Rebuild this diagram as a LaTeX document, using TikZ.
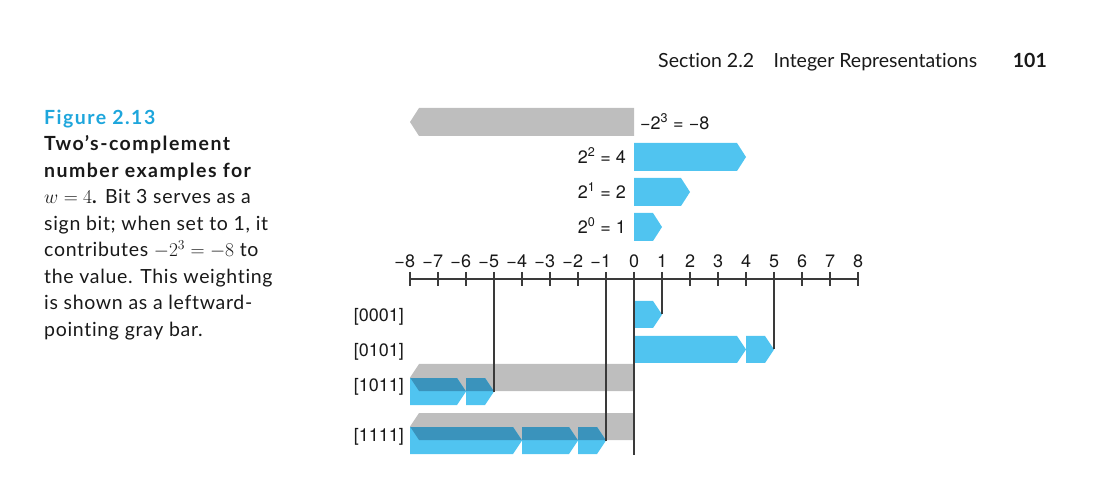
\documentclass[tikz,border=0pt]{standalone}
\usepackage{fontspec}
\usepackage{fix-cm}
\setmainfont{Lato}[Ligatures=NoCommon]
\newfontfamily\capfont{Lato}[LetterSpace=3.5,Ligatures=NoCommon]
\newfontfamily\capbffont{Lato}[LetterSpace=7.5,Ligatures=NoCommon]
\newfontfamily\figfont{TeX Gyre Heros}
\definecolor{barblue}{HTML}{50C4F0}
\definecolor{bardark}{HTML}{3A93BC}
\definecolor{bargray}{HTML}{BEBEBE}
\definecolor{capblue}{HTML}{1EA6DC}
\definecolor{linegray}{HTML}{3A3A3A}
% right-pointing bar: [colour] x1, x2(tip), ytop, ybottom
\newcommand{\rbar}[5][barblue]{\fill[#1] (#2,#4) -- ({#3-9},#4) -- (#3,{(#4+#5)/2}) -- ({#3-9},#5) -- (#2,#5) -- cycle;}
% left-pointing bar: x1(tip), x2, ytop, ybottom
\newcommand{\lbar}[5][bargray]{\fill[#1] (#3,#4) -- ({#2+9},#4) -- (#2,{(#4+#5)/2}) -- ({#2+9},#5) -- (#3,#5) -- cycle;}
\newcommand{\lbarclip}[4]{\clip (#2,#3) -- ({#1+9},#3) -- (#1,{(#3+#4)/2}) -- ({#1+9},#4) -- (#2,#4) -- cycle;}
\begin{document}
\begin{tikzpicture}[x=1pt,y=-1pt,
  figtext/.style={font=\figfont\fontsize{18}{21}\selectfont, inner sep=0pt, text=black!90},
  captext/.style={font=\capfont\fontsize{19.5}{23}\selectfont, inner sep=0pt, anchor=base west, text=black!90},
  capbold/.style={captext, font=\capbffont\bfseries\fontsize{19.5}{23}\selectfont},
  header/.style={font=\fontsize{19.5}{23}\selectfont, inner sep=0pt, text=black!90},
  conn/.style={draw=linegray, line width=1.3pt},
  tick/.style={draw=linegray, line width=1.3pt}]
\useasboundingbox (0,0) rectangle (1098,486);

% header
\node[header, anchor=base west] (sec) at (658,68) {Section 2.2\quad Integer Representations};
\node[header, anchor=base east, font=\bfseries\fontsize{19.5}{23}\selectfont] (pg) at (1047,68) {101};

% caption
\node[capbold, text=capblue] (c1) at (44,124.5) {Figure 2.13};
\node[capbold] (c2) at (44,151) {Two’s-complement};
\node[capbold] (c3) at (44,177.5) {number examples for};
\node[captext] (c4) at (44,204) {$w=4$\textbf{.} Bit 3 serves as a};
\node[captext] (c5) at (44,230.5) {sign bit; when set to 1, it};
\node[captext] (c6) at (44,257) {contributes $-2^3=-8$ to};
\node[captext] (c7) at (44,283.5) {the value. This weighting};
\node[captext] (c8) at (44,310) {is shown as a leftward-};
\node[captext] (c9) at (44,336.5) {pointing gray bar.};

% weight bars
\lbar{410}{634}{108}{136}
\rbar{634}{746}{143}{171}
\rbar{634}{690}{178}{206}
\rbar{634}{662}{213}{241}
\node[figtext, anchor=base west] (wm8) at (640,129.5) {−2\textsuperscript{3} = −8};
\node[figtext, anchor=base east] (w4) at (626,163.5) {2\textsuperscript{2} = 4};
\node[figtext, anchor=base east] (w2) at (626,198.5) {2\textsuperscript{1} = 2};
\node[figtext, anchor=base east] (w1) at (626,233.5) {2\textsuperscript{0} = 1};

% row bars
\rbar{634}{662}{301}{328}
\rbar{634}{746}{336}{363}
\rbar{746}{774}{336}{363}
\lbar{410}{634}{364}{391}
\rbar{410}{466}{378}{405}
\rbar{466}{494}{378}{405}
\begin{scope}
  \lbarclip{410}{634}{364}{391}
  \rbar[bardark]{410}{466}{378}{405}
  \rbar[bardark]{466}{494}{378}{405}
\end{scope}
\lbar{410}{634}{413}{440}
\rbar{410}{522}{427}{454}
\rbar{522}{578}{427}{454}
\rbar{578}{606}{427}{454}
\begin{scope}
  \lbarclip{410}{634}{413}{440}
  \rbar[bardark]{410}{522}{427}{454}
  \rbar[bardark]{522}{578}{427}{454}
  \rbar[bardark]{578}{606}{427}{454}
\end{scope}

% row labels
\node[figtext, anchor=base east] (r1) at (404,321.5) {[0001]};
\node[figtext, anchor=base east] (r2) at (404,356.5) {[0101]};
\node[figtext, anchor=base east] (r3) at (404,391.5) {[1011]};
\node[figtext, anchor=base east] (r4) at (404,441.5) {[1111]};

% axis
\coordinate (axL) at (410,279);
\coordinate (axR) at (858,279);
\draw[tick] (axL) -- (axR);
\foreach \v in {-8,...,8} {
  \coordinate (t\v) at ({634+28*\v},279);
  \draw[tick] ({634+28*\v},272) -- ({634+28*\v},286);
}
\foreach \v in {-8,...,-1} {
  \node[figtext, anchor=base] (l\v) at ({634+28*\v},268) {\llap{−}\the\numexpr-\v\relax};
}
\foreach \v in {0,...,8} {
  \node[figtext, anchor=base] (l\v) at ({634+28*\v},268) {\v};
}

% tips and connectors
\coordinate (p1) at (662,314.5);
\coordinate (p5) at (774,349.5);
\coordinate (pm5) at (494,391.5);
\coordinate (pm1) at (606,440.5);
\coordinate (p0) at (634,455);
\draw[conn] (t1) -- (p1);
\draw[conn] (t5) -- (p5);
\draw[conn] (t-5) -- (pm5);
\draw[conn] (t-1) -- (pm1);
\draw[conn] (t0) -- (p0);
\end{tikzpicture}
\end{document}
